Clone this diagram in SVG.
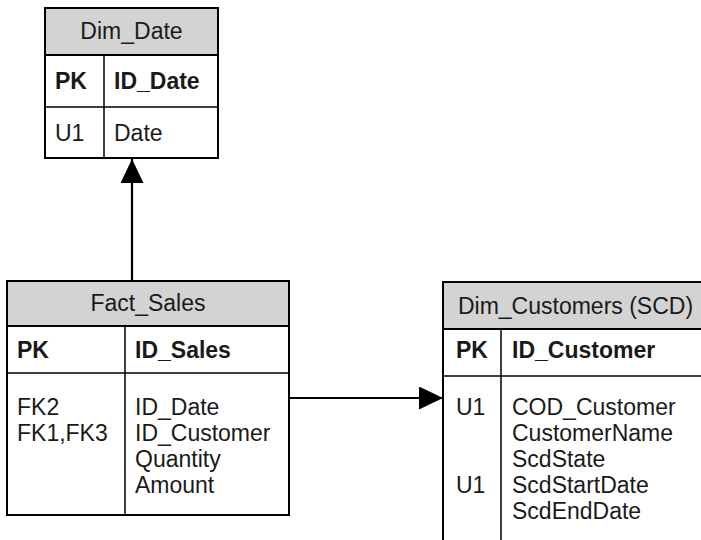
<svg xmlns="http://www.w3.org/2000/svg" width="701" height="540" viewBox="0 0 701 540">
<style>
.box{fill:#fff;stroke:#000;stroke-width:2}
.hdr{fill:#d3d3d3;stroke:#000;stroke-width:2}
.ln{stroke:#000;stroke-width:1.5;fill:none}
.t{font-family:"Liberation Sans",Arial,sans-serif;font-size:23px;fill:#1a1a1a}
.b{font-weight:bold}
.c{text-anchor:middle}
.conn{stroke:#000;stroke-width:2.2;fill:none}
</style>
<defs>
<marker id="ah" markerUnits="userSpaceOnUse" markerWidth="26" markerHeight="24" refX="24" refY="11.5" orient="auto">
<path d="M0,0 L24,11.5 L0,23 Z" fill="#000"/>
</marker>
</defs>
<g id="connectors">
<line class="conn" x1="132" y1="281" x2="132" y2="159" marker-end="url(#ah)"/>
<line class="conn" x1="289" y1="398" x2="443" y2="398" marker-end="url(#ah)"/>
</g>
<g id="Dim_Date">
<rect class="box" x="45" y="8" width="173" height="150"/>
<rect class="hdr" x="45" y="8" width="173" height="47"/>
<line class="ln" x1="45" y1="107" x2="218" y2="107"/>
<line class="ln" x1="104" y1="55" x2="104" y2="158"/>
<text class="t c" x="131.5" y="39">Dim_Date</text>
<text class="t b" x="55" y="89">PK</text>
<text class="t b" x="114" y="89">ID_Date</text>
<text class="t" x="55" y="141">U1</text>
<text class="t" x="114" y="141">Date</text>
</g>
<g id="Fact_Sales">
<rect class="box" x="7" y="281" width="282" height="234"/>
<rect class="hdr" x="7" y="281" width="282" height="45"/>
<line class="ln" x1="7" y1="373" x2="289" y2="373"/>
<line class="ln" x1="125" y1="326" x2="125" y2="515"/>
<text class="t c" x="148" y="311">Fact_Sales</text>
<text class="t b" x="17" y="358">PK</text>
<text class="t b" x="135" y="358">ID_Sales</text>
<text class="t" x="17" y="415">FK2</text>
<text class="t" x="17" y="441">FK1,FK3</text>
<text class="t" x="135" y="415">ID_Date</text>
<text class="t" x="135" y="441">ID_Customer</text>
<text class="t" x="135" y="467">Quantity</text>
<text class="t" x="135" y="493">Amount</text>
</g>
<g id="Dim_Customers">
<rect class="box" x="443" y="282" width="265" height="270"/>
<rect class="hdr" x="443" y="282" width="265" height="47"/>
<line class="ln" x1="443" y1="376" x2="708" y2="376"/>
<line class="ln" x1="501" y1="329" x2="501" y2="552"/>
<text class="t c" x="575.5" y="314">Dim_Customers (SCD)</text>
<text class="t b" x="456" y="358">PK</text>
<text class="t b" x="512" y="358">ID_Customer</text>
<text class="t" x="456" y="415">U1</text>
<text class="t" x="456" y="493">U1</text>
<text class="t" x="512" y="415">COD_Customer</text>
<text class="t" x="512" y="441">CustomerName</text>
<text class="t" x="512" y="467">ScdState</text>
<text class="t" x="512" y="493">ScdStartDate</text>
<text class="t" x="512" y="519">ScdEndDate</text>
</g>
</svg>
